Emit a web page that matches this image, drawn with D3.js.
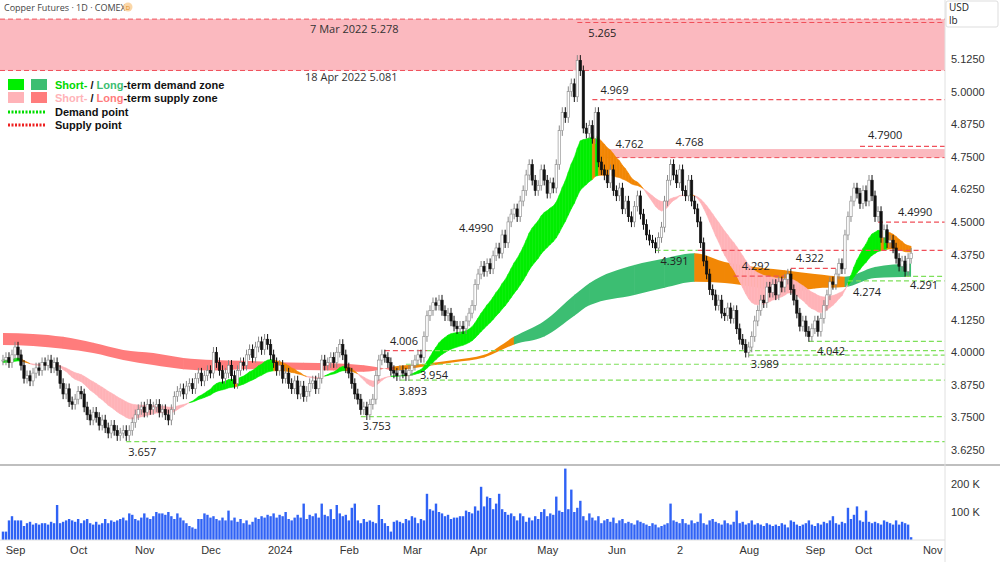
<!DOCTYPE html>
<html><head><meta charset="utf-8">
<script src="https://cdn.jsdelivr.net/npm/d3@7"></script>
<style>body{margin:0;background:#fff;font-family:"Open Sans",Roboto,sans-serif}</style>
</head><body><svg id="c" width="1000" height="562"></svg>
<script>
// daily closes, Aug 28 2023 .. Oct 2024 (weekdays)
const closes = [
  3.97,3.98,3.96,3.99, 4.02,3.99,3.95,3.90,3.91, 3.89,3.92,3.94,3.93,3.96, 3.95,3.97,3.94,3.96,3.93,
  3.88,3.84,3.86,3.81,3.80, 3.82,3.85,3.84,3.79,3.76, 3.74,3.77,3.75,3.72,3.74, 3.71,3.69,3.72,3.70,3.68,
  3.69,3.70,3.68,3.70,3.73, 3.76,3.78,3.79,3.77,3.80, 3.78,3.79,3.80,3.77,3.78, 3.76,3.74,3.78,3.83,3.85,
  3.86,3.84,3.87,3.88,3.86, 3.90,3.92,3.89,3.91,3.93, 3.92,4.00,3.96,3.93,3.90, 3.92,3.95,3.91,3.88,3.93,
  3.96,3.95,3.99,4.01,3.98, 4.02,4.04,4.01,4.05,4.03, 3.99,3.96,3.93,3.95,3.90, 3.92,3.88,3.86,3.89,3.84,
  3.87,3.83,3.85,3.88,3.89, 3.86,3.90,3.97,3.95,3.96, 3.98,3.96,4.00,4.03,3.99, 3.94,3.92,3.88,3.84,3.82,
  3.78,3.79,3.76,3.80,3.82, 3.91,3.97,3.99,3.98,3.96, 3.93,3.92,3.91,3.93,3.92, 3.91,3.93,3.95,3.97,3.99,
  3.98,4.06,4.14,4.16,4.19, 4.18,4.20,4.16,4.14,4.15, 4.12,4.10,4.09,4.10,4.09, 4.12,4.15,4.18,4.26,4.30,
  4.33,4.31,4.34,4.32,4.37, 4.40,4.38,4.45,4.42,4.50, 4.53,4.55,4.52,4.58,4.62, 4.68,4.72,4.66,4.62,4.64,
  4.70,4.66,4.61,4.65,4.63, 4.72,4.85,4.92,4.90,5.00, 5.03,4.98,5.12,5.08,4.86, 4.84,4.87,4.82,4.92,4.73,
  4.70,4.68,4.65,4.70,4.62, 4.60,4.63,4.55,4.58,4.52, 4.50,4.56,4.60,4.53,4.49, 4.45,4.43,4.42,4.40,4.44,
  4.48,4.58,4.66,4.72,4.68, 4.65,4.70,4.62,4.60,4.66, 4.58,4.55,4.50,4.42,4.35, 4.30,4.24,4.22,4.18,4.20,
  4.15,4.14,4.17,4.13,4.16, 4.09,4.05,4.03,4.00,4.02, 4.06,4.12,4.16,4.20,4.19, 4.25,4.23,4.26,4.22,4.27,
  4.25,4.28,4.30,4.24,4.20, 4.15,4.10,4.12,4.08,4.06, 4.09,4.12,4.08,4.13,4.18, 4.22,4.27,4.26,4.30,4.34,
  4.32,4.45,4.52,4.58,4.63, 4.61,4.57,4.62,4.58,4.66, 4.60,4.52,4.54,4.44,4.47, 4.42,4.43,4.40,4.36,4.33,
  4.35,4.31,4.36,4.38
];
// volume, thousands
const volumes = [
  30,30,70,85,70,70,70,50,60,65, 55,60,55,60,60,55,65,60,125,60, 65,70,75,70,65,75,60,70,75,60,
  55,65,55,60,75,60,70,65,70,75, 80,70,95,90,75,70,80,95,80,75, 85,100,95,95,90,100,85,75,95,80,
  70,60,50,45,40,75,75,95,90,80, 85,75,70,80,70,105,70,80,65,75, 60,70,55,65,80,75,85,80,90,85,
  95,80,90,85,100,75,70,80,90,80, 130,75,90,85,95,80,130,90,85,110, 75,125,95,85,90,70,115,130,70,60,
  75,65,70,65,60,125,75,60,50,30, 65,70,65,60,75,70,85,80,60,75, 70,165,110,105,130,100,95,85,90,75,
  80,80,85,85,105,100,95,120,105,190, 120,155,150,110,130,165,110,100,90,95, 85,70,95,85,65,80,70,85,75,100,
  110,85,95,90,155,105,100,255,110,180, 100,115,140,85,70,95,80,70,85,60, 70,75,65,80,60,70,75,60,65,60,
  55,70,65,60,55,50,60,55,45,50, 55,60,130,70,65,60,75,60,55,70, 60,65,95,60,55,70,75,65,60,55,
  70,60,55,65,105,60,65,55,60,70, 55,60,55,50,60,55,50,55,50,60, 55,45,70,65,55,50,55,60,70,55,
  50,60,55,65,60,70,85,60,55,65, 60,115,75,90,120,70,65,105,65,60, 65,60,55,70,65,60,55,70,55,65,
  60,55,10
];
const priceTicks = [3.625,3.75,3.875,4,4.125,4.25,4.375,4.5,4.625,4.75,4.875,5,5.125];
const volTicks = [100,200];
const monthLabels = ["Sep","Oct","Nov","Dec","2024","Feb","Mar","Apr","May","Jun","2","Aug","Sep","Oct","Nov"];
const monthIdx = [4,25,47,69,92,115,136,158,181,204,225,248,270,286,309];
// short-term ribbon seeds read at left edge
const shortSeeds = [3.97,3.96];
// long-term ribbon every ~10 bars
const longIdx  = [0,10,20,30,40,50,60,70,80,90,100,110,120,126,130,140,150,160,170,180,190,195,210,220,230,240,250,260,270,280,290,302];
const longFast = [4.028,4.024,4.013,3.997,3.97,3.951,3.935,3.93,3.935,3.935,3.932,3.93,3.925,3.935,3.945,3.955,3.97,3.99,4.06,4.12,4.22,4.265,4.335,4.36,4.38,4.346,4.327,4.315,4.30,4.29,4.327,4.34];
const longSlow = [4.074,4.07,4.059,4.036,4.009,3.997,3.978,3.97,3.967,3.963,3.96,3.958,3.95,3.94,3.93,3.945,3.962,3.98,4.03,4.06,4.14,4.18,4.22,4.247,4.27,4.266,4.25,4.227,4.245,4.25,4.285,4.29];
const supplyZone = [5.081,5.278];
const nearZone = [4.762,4.768,198];
// [price, fromIndex, toIndex, kind]
const levelLines = [
  [5.265,191,null,"s"],[4.969,196,null,"s"],[4.79,285,null,"s"],[4.499,291,null,"s"],
  [4.391,217,231,"d"],[4.391,231,null,"s"],[4.292,243,260,"s"],[4.322,262,278,"s"],
  [4.274,281,null,"d"],[4.291,300,null,"d"],[4.042,268,null,"d"],[4.006,141,null,"d"],
  [4.006,127,141,"s"],[3.989,248,null,"d"],[3.954,134,null,"d"],[3.893,132,null,"d"],
  [3.753,119,null,"d"],[3.657,41,null,"d"]
];
// [text, index, price, dy]
const labels = [
  ["5.265",194,5.265,14],["4.969",198,4.969,-6],["4.762",203,4.762,-6],["4.768",223,4.768,-6],
  ["4.7900",287,4.79,-7],["4.4990",297,4.499,-6],["4.4990",151,4.499,10],["4.391",218,4.391,15],
  ["4.292",245,4.292,-6],["4.322",263,4.322,-6],["4.274",282,4.274,15],["4.291",301,4.291,13],
  ["4.042",270,4.042,14],["3.989",248,3.989,13],["4.006",128,4.006,-6],["3.954",138,3.954,15],
  ["3.893",131,3.893,15],["3.753",119,3.753,13],["3.657",41,3.657,14]
];

const svg = d3.select("#c");
const W = 945, mainBot = 462;
const x = d3.scaleLinear().domain([4,286]).range([15,863]);
const y = d3.scaleLinear().domain([3.625,5.125]).range([450,59]);
const yv = d3.scaleLinear().domain([0,200]).range([540,484]);

function ema(arr,n,seed){const k=2/(n+1);let v=seed;return arr.map(c=>v=v+k*(c-v));}
const sf = ema(closes,20,shortSeeds[0]), ss = ema(closes,40,shortSeeds[1]);

const defs = svg.append("defs");
defs.append("clipPath").attr("id","mc").append("rect").attr("x",0).attr("y",0).attr("width",W).attr("height",mainBot);
const g = svg.append("g").attr("clip-path","url(#mc)");

// supply zone
g.append("rect").attr("x",0).attr("width",W).attr("y",y(supplyZone[1])).attr("height",y(supplyZone[0])-y(supplyZone[1])).attr("fill","#fbb9bf");
supplyZone.forEach(p=>g.append("line").attr("x1",0).attr("x2",W).attr("y1",y(p)).attr("y2",y(p)).attr("stroke","#f0505a").attr("stroke-dasharray","5,3"));
g.append("rect").attr("x",x(nearZone[2])).attr("width",W-x(nearZone[2])).attr("y",y(nearZone[1])-3).attr("height",y(nearZone[0])-y(nearZone[1])+7).attr("fill","#fbb9bf");
g.append("line").attr("x1",x(nearZone[2])).attr("x2",W).attr("y1",y(nearZone[0])+4).attr("y2",y(nearZone[0])+4).attr("stroke","#f0505a").attr("stroke-dasharray","5,3");

// long-term ribbon: smooth area, coloured per sampled interval
const longPts = longIdx.map((i,k)=>({i,f:longFast[k],s:longSlow[k]}));
const longArea = d3.area().x(d=>x(d.i)).y0(d=>y(d.s)).y1(d=>y(d.f)).curve(d3.curveMonotoneX);
const longCols = ["#3cbe72","#f28705","#ff7c7c"];
longPts.slice(0,-1).forEach((d,k)=>{
  const n = longPts[k+1];
  const c = d.f < d.s ? longCols[2] : (n.f < d.f ? longCols[1] : (d.i>=126 && d.i<165 ? longCols[1] : longCols[0]));
  const id = "lc"+k;
  defs.append("clipPath").attr("id",id).append("rect").attr("x",x(d.i)-0.3).attr("width",x(n.i)-x(d.i)+0.6).attr("y",0).attr("height",mainBot);
  g.append("path").attr("d",longArea(longPts)).attr("fill",c).attr("clip-path",`url(#${id})`);
});

// short-term ribbon from EMAs of the closes
for(let i=0;i<closes.length-1;i++){
  let c;
  if(sf[i]>=ss[i]) c = (i>0 && sf[i]<sf[i-1]) ? "#f28705" : "#00ee00"; else c = "#ffb3b8";
  const pts=[[x(i),y(sf[i])],[x(i+1),y(sf[i+1])],[x(i+1),y(ss[i+1])],[x(i),y(ss[i])]];
  g.append("path").attr("d","M"+pts.join("L")+"Z").attr("fill",c).attr("stroke",c).attr("stroke-width",0.6);
}

// level lines
levelLines.forEach(([p,a,b,k])=>{
  g.append("line").attr("x1",x(a)).attr("x2",b==null?W:x(b)).attr("y1",y(p)).attr("y2",y(p))
    .attr("stroke",k==="s"?"#f0505a":"#7ee05a").attr("stroke-width",1.2).attr("stroke-dasharray","5,3");
});

// candles
const cg = g.append("g");
closes.forEach((c,i)=>{
  const o = i>0?closes[i-1]:c;
  const up = c>=o, hi=Math.max(o,c)+0.02, lo=Math.min(o,c)-0.02;
  cg.append("line").attr("x1",x(i)).attr("x2",x(i)).attr("y1",y(hi)).attr("y2",y(lo)).attr("stroke",up?"#888":"#111");
  cg.append("rect").attr("x",x(i)-1.2).attr("width",2.4).attr("y",y(Math.max(o,c))).attr("height",Math.max(1,Math.abs(y(o)-y(c))))
    .attr("fill",up?"#fff":"#111").attr("stroke",up?"#888":"#111").attr("stroke-width",0.6);
});

// labels
labels.forEach(([t,i,p,dy])=>g.append("text").attr("x",x(i)+2).attr("y",y(p)+dy).attr("font-size",11).attr("fill","#222").text(t));
g.append("text").attr("x",310).attr("y",y(supplyZone[1])+14).attr("font-size",11).attr("fill","#333").text("7 Mar 2022 5.278");
g.append("text").attr("x",305).attr("y",y(supplyZone[0])+11).attr("font-size",11).attr("fill","#333").text("18 Apr 2022 5.081");

// volume
svg.append("g").selectAll("rect").data(volumes).join("rect")
  .attr("x",(d,i)=>x(i)-1.2).attr("width",2.4).attr("y",d=>yv(d)).attr("height",d=>540-yv(d)).attr("fill","#2f62f5");

// frame
svg.append("line").attr("x1",0).attr("x2",1000).attr("y1",465).attr("y2",465).attr("stroke","#aaa").attr("stroke-width",1.5);
svg.append("line").attr("x1",W).attr("x2",W).attr("y1",0).attr("y2",562).attr("stroke","#e0e0e0");
svg.append("line").attr("x1",0).attr("x2",W).attr("y1",540).attr("y2",540).attr("stroke","#e0e0e0");

// axes
const pa = svg.append("g").attr("transform",`translate(${W},0)`).call(d3.axisRight(y).tickValues(priceTicks).tickFormat(d3.format(".4f")).tickSize(0).tickPadding(6));
pa.select(".domain").remove(); pa.selectAll("text").attr("font-size",11).attr("fill","#333");
const va = svg.append("g").attr("transform",`translate(${W},0)`).call(d3.axisRight(yv).tickValues(volTicks).tickFormat(d=>d+" K").tickSize(0).tickPadding(6));
va.select(".domain").remove(); va.selectAll("text").attr("font-size",11).attr("fill","#333");
const ta = svg.append("g").attr("transform","translate(0,540)").call(d3.axisBottom(x).tickValues(monthIdx).tickFormat((d,i)=>monthLabels[i]).tickSize(0).tickPadding(6));
ta.select(".domain").remove(); ta.selectAll("text").attr("font-size",11).attr("fill","#333");

// unit box
svg.append("rect").attr("x",946).attr("y",1).attr("width",52).attr("height",26).attr("fill","#fff").attr("stroke","#ddd").attr("rx",2);
svg.append("text").attr("x",949).attr("y",11).attr("font-size",10).attr("fill","#222").text("USD");
svg.append("text").attr("x",949).attr("y",24).attr("font-size",10).attr("fill","#222").text("lb");

// header + legend
svg.append("text").attr("x",4).attr("y",11).attr("font-size",9).attr("fill","#444").text("Copper Futures · 1D · COMEX");
svg.append("circle").attr("cx",128).attr("cy",7).attr("r",4.5).attr("fill","#fbd7a8");
svg.append("text").attr("x",128).attr("y",9.5).attr("font-size",6).attr("text-anchor","middle").attr("fill","#e08a20").text("D");
const lg = svg.append("g").attr("font-family","Arial,Liberation Sans,sans-serif").attr("font-weight","bold").attr("font-size",11);
[["#00ee00","#3cbe72",85],["#ffb3b8","#ff7c7c",98]].forEach(([a,b,yy])=>{
  lg.append("rect").attr("x",8).attr("y",yy-6).attr("width",16).attr("height",11).attr("fill",a);
  lg.append("rect").attr("x",31).attr("y",yy-6).attr("width",16).attr("height",11).attr("fill",b);
});
let t1 = lg.append("text").attr("x",55).attr("y",89);
t1.append("tspan").attr("fill","#00d800").text("Short-");t1.append("tspan").attr("fill","#111").text(" / ");
t1.append("tspan").attr("fill","#3cbe72").text("Long");t1.append("tspan").attr("fill","#111").text("-term demand zone");
let t2 = lg.append("text").attr("x",55).attr("y",102);
t2.append("tspan").attr("fill","#ffb3b8").text("Short-");t2.append("tspan").attr("fill","#111").text(" / ");
t2.append("tspan").attr("fill","#ff7c7c").text("Long");t2.append("tspan").attr("fill","#111").text("-term supply zone");
[["#00dd00","Demand point",112],["#ee2020","Supply point",125]].forEach(([c,t,yy])=>{
  lg.append("line").attr("x1",8).attr("x2",46).attr("y1",yy).attr("y2",yy).attr("stroke",c).attr("stroke-width",3).attr("stroke-dasharray","2,1.5");
  lg.append("text").attr("x",55).attr("y",yy+4).attr("fill","#111").text(t);
});
</script></body></html>
